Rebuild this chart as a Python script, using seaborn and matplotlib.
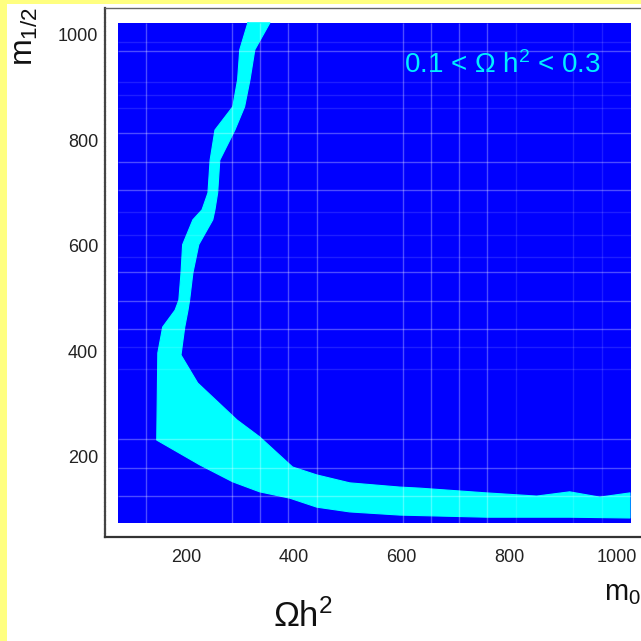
import matplotlib
matplotlib.use("Agg")
import matplotlib.pyplot as plt
import pandas as pd
import seaborn as sns
from matplotlib.patches import Rectangle
from matplotlib.ticker import MultipleLocator

# Scanned region of the (m0, m1/2) plane, GeV
scan_m0 = [75, 1025]
scan_m12 = [75, 1022]

# Band 0.1 < Omega h^2 < 0.3 : outer edge (left side, then lower side)
outer_m0 = [315, 300, 296, 287, 254, 245, 241, 230, 213, 194, 191, 187, 180,
            157, 148, 146, 226, 287, 337, 393, 443, 504, 597, 758, 912, 1024]
outer_m12 = [1022, 971, 914, 863, 819, 762, 700, 668, 649, 602, 548, 497, 478,
             446, 397, 232, 185, 153, 134, 122, 105, 96, 90, 86, 86, 84.5]

# inner edge (upper side from the right end, then right side up to the top)
inner_m0 = [1024, 968, 912, 851, 758, 634, 597, 504, 443, 398, 337, 295, 222,
            191, 198, 204, 207, 213, 224, 250, 254, 259, 263, 291, 309, 319,
            328, 356]
inner_m12 = [132, 124, 134, 126, 132, 141, 143, 151, 166, 181, 238, 270, 340,
             393, 446, 478, 497, 548, 602, 649, 668, 700, 762, 819, 863, 914,
             971, 1022]

# cell boundaries of the scan grid
grid_m0 = [126, 285, 337, 389, 443, 602, 654, 706, 758]
grid_m12 = [968, 813, 758, 705, 550, 495, 442, 234, 179, 126]
faint_m0 = [812, 918, 972]
faint_m12 = [986, 910, 886, 861, 664, 620, 579, 408, 367]

x_ticks = [200, 400, 600, 800, 1000]
y_ticks = [200, 400, 600, 800, 1000]

sns.set_style("white")
plt.rcParams["font.family"] = ["Liberation Sans", "DejaVu Sans"]
plt.rcParams["mathtext.fontset"] = "custom"
plt.rcParams["mathtext.rm"] = "Liberation Sans"
plt.rcParams["mathtext.it"] = "Liberation Sans"

BLUE = "#0000ff"
CYAN = "#00ffff"
YELLOW = "#ffff80"

fig = plt.figure(figsize=(6.41, 6.41), dpi=100)
fig.patch.set_facecolor("white")
fig.patches.append(Rectangle((0, 0), 7 / 641, 1, transform=fig.transFigure,
                             facecolor=YELLOW, edgecolor="none", zorder=-5))
fig.patches.append(Rectangle((0, 1 - 3.5 / 641), 1, 3.5 / 641,
                             transform=fig.transFigure, facecolor=YELLOW,
                             edgecolor="none", zorder=-5))

ax = fig.add_axes([105 / 641, 104 / 641, 539 / 641, 529 / 641])
ax.set_xlim(50, 1050)
ax.set_ylim(48.5, 1050)

# scanned area
ax.fill_between(scan_m0, scan_m12[0], scan_m12[1], color=BLUE, lw=0, zorder=1)

# allowed band
band = pd.DataFrame({
    "m0": outer_m0 + inner_m0 + [outer_m0[0]],
    "m12": outer_m12 + inner_m12 + [outer_m12[0]],
})
ax.fill(band["m0"], band["m12"], color=CYAN, lw=0, zorder=2)
sns.lineplot(data=band, x="m0", y="m12", sort=False, estimator=None,
             color=CYAN, lw=0.8, ax=ax, zorder=2)

# grid cells
ax.vlines(grid_m0, scan_m12[0], scan_m12[1], color="white", alpha=0.3,
          lw=1.0, zorder=3)
ax.hlines(grid_m12, scan_m0[0], scan_m0[1], color="white", alpha=0.3,
          lw=1.0, zorder=3)
ax.vlines(faint_m0, scan_m12[0], scan_m12[1], color="white", alpha=0.12,
          lw=1.0, zorder=3)
ax.hlines(faint_m12, scan_m0[0], scan_m0[1], color="white", alpha=0.12,
          lw=1.0, zorder=3)

ax.text(788, 927, r"0.1 < $\mathregular{\Omega\ h^2}$ < 0.3", color="#00f0ff",
        fontsize=20, ha="center", va="baseline", zorder=4)

ax.set_xlabel("")
ax.set_ylabel("")
ax.set_xticks(x_ticks)
ax.set_yticks(y_ticks)
ax.xaxis.set_minor_locator(MultipleLocator(50))
ax.yaxis.set_minor_locator(MultipleLocator(50))
ax.tick_params(which="major", direction="in", length=9.5, width=1.0,
               color="#333333", labelsize=13, labelcolor="#222222")
ax.tick_params(which="minor", direction="in", length=5, width=0.9,
               color="#333333")
ax.tick_params(axis="x", which="major", pad=9)
ax.tick_params(axis="y", which="major", pad=5)
ax.tick_params(top=False, right=False, which="both")

ax.spines["right"].set_visible(False)
ax.spines["bottom"].set_color("#333333")
ax.spines["bottom"].set_linewidth(1.6)
ax.spines["left"].set_color("#444444")
ax.spines["left"].set_linewidth(1.6)
ax.spines["left"].set_linestyle((0, (1.2, 0.8)))
ax.spines["top"].set_color("#666666")
ax.spines["top"].set_linewidth(1.0)
ax.spines["top"].set_linestyle((0, (2, 1)))

fig.text(25 / 641, 1 - 36 / 641, r"$\mathregular{m_{1/2}}$", rotation=90,
         fontsize=23, ha="center", va="center", color="#111111")
fig.text(604 / 641, 1 - 600 / 641, r"$\mathregular{m_0}$", fontsize=21,
         ha="left", va="baseline", color="#111111")
fig.text(303 / 641, 1 - 627 / 641, r"$\mathregular{\Omega h^2}$",
         fontsize=25, ha="center", va="baseline", color="#111111")

fig.savefig("out.png", dpi=100)
